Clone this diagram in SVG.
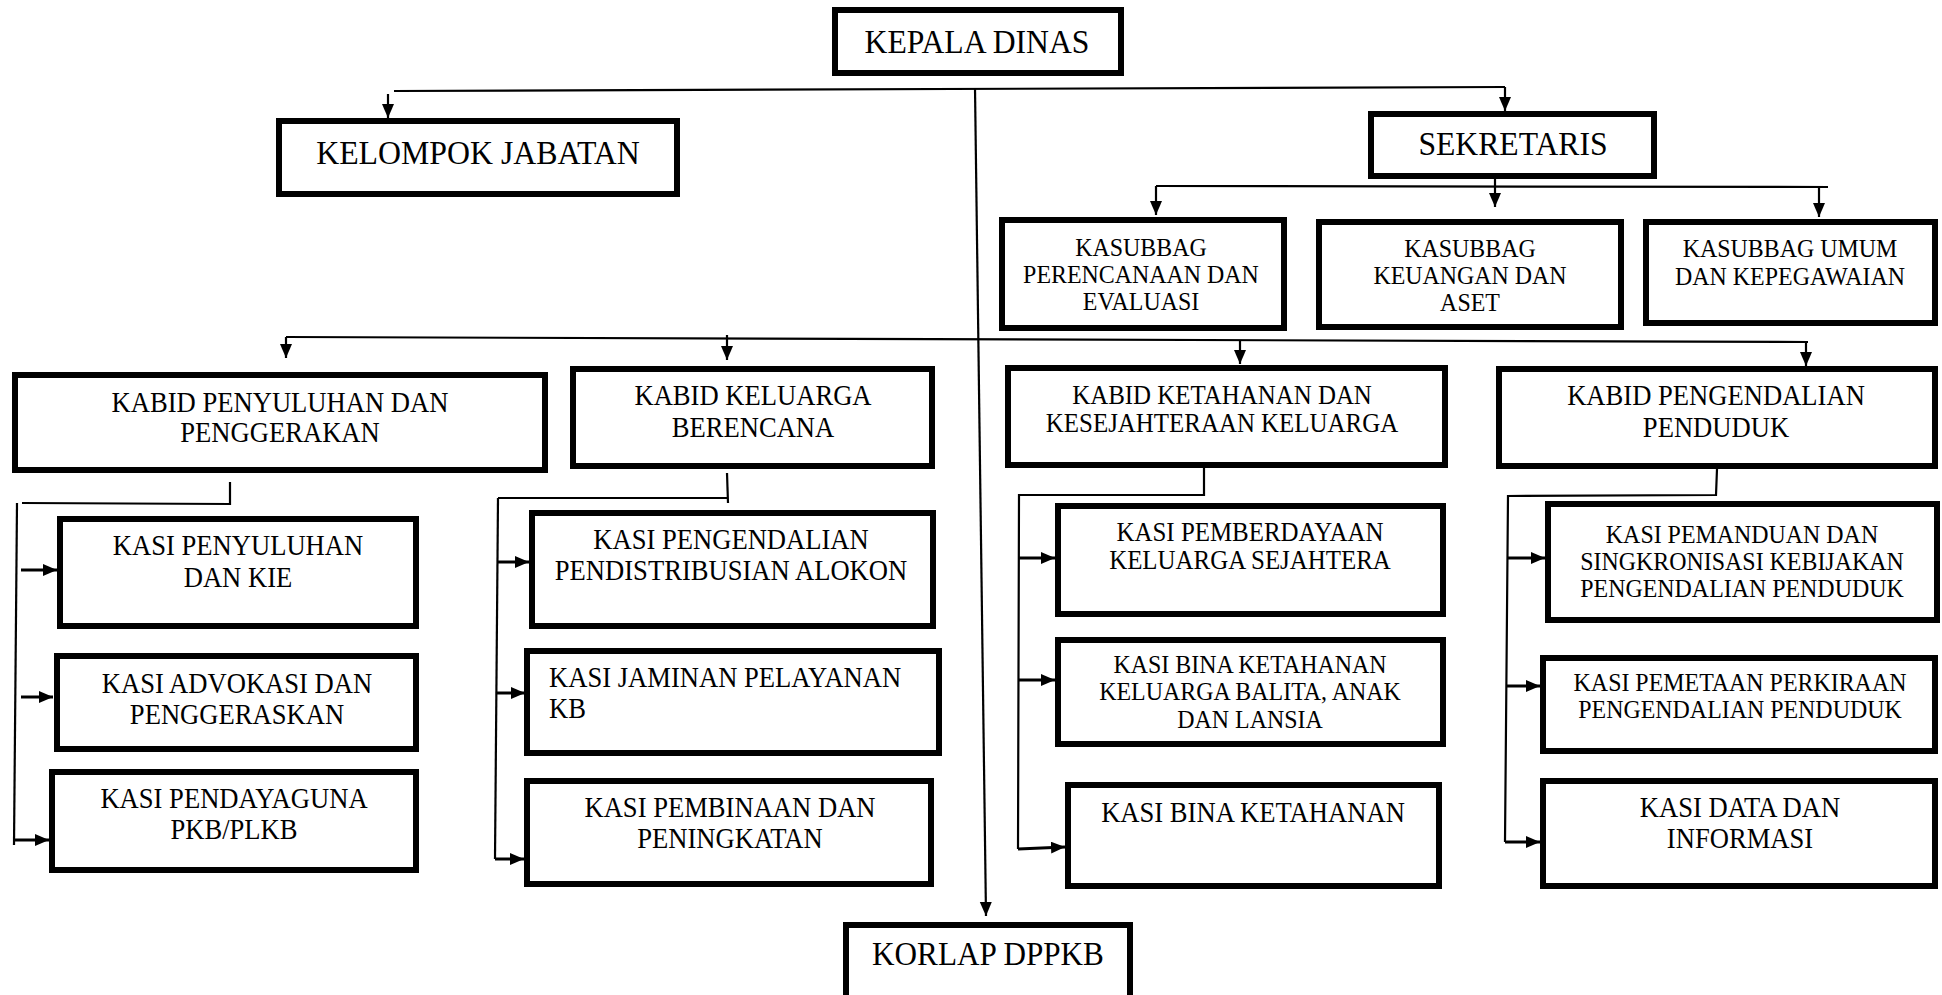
<svg xmlns="http://www.w3.org/2000/svg" width="1942" height="995" viewBox="0 0 1942 995">
<style>
.box{fill:#fff;stroke:#000;stroke-width:6}
.ln{fill:none;stroke:#000;stroke-width:2.2}
.ar{fill:none;stroke:#000;stroke-width:2.2;marker-end:url(#ah)}
.arh{fill:none;stroke:#000;stroke-width:3;marker-end:url(#ah)}
text{font-family:"Liberation Serif","Times New Roman",serif;fill:#000;text-anchor:middle}
.big{font-size:33px}
.m30{font-size:30px}
.m28{font-size:28px}
.m26{font-size:26px}
</style>
<defs>
<marker id="ah" markerUnits="userSpaceOnUse" markerWidth="16" markerHeight="14" refX="14" refY="6" orient="auto">
<path d="M0,0 L14,6 L0,12 z" fill="#000"/>
</marker>
</defs>
<rect width="1942" height="995" fill="#fff"/>
<g id="connectors">
<line class="ln" x1="394" y1="91" x2="1505" y2="87"/>
<line class="ar" x1="388" y1="94" x2="388" y2="118"/>
<line class="ar" x1="1505" y1="87" x2="1505" y2="111"/>
<line class="ar" x1="975" y1="88" x2="986" y2="916"/>
<line class="ln" x1="1156" y1="186" x2="1828" y2="187"/>
<line class="ar" x1="1495" y1="179" x2="1495" y2="207"/>
<line class="ar" x1="1156" y1="186" x2="1156" y2="215"/>
<line class="ar" x1="1819" y1="187" x2="1819" y2="217"/>
<line class="ln" x1="286" y1="337" x2="1808" y2="342"/>
<line class="ar" x1="286" y1="337" x2="286" y2="358"/>
<line class="ar" x1="727" y1="335" x2="727" y2="360"/>
<line class="ar" x1="1240" y1="341" x2="1240" y2="364"/>
<line class="ar" x1="1806" y1="342" x2="1806" y2="366"/>
<polyline class="ln" points="230,482 230,504 22,503"/>
<line class="ln" x1="17" y1="503" x2="14" y2="845"/>
<line class="arh" x1="21" y1="570" x2="57" y2="570"/>
<line class="arh" x1="21" y1="697" x2="53" y2="697"/>
<line class="arh" x1="14" y1="840" x2="49" y2="840"/>
<line class="ln" x1="727" y1="473" x2="728" y2="503"/>
<line class="ln" x1="728" y1="498" x2="498" y2="498"/>
<line class="ln" x1="498" y1="498" x2="495" y2="859"/>
<line class="arh" x1="498" y1="562" x2="529" y2="562"/>
<line class="arh" x1="497" y1="693" x2="525" y2="693"/>
<line class="arh" x1="495" y1="859" x2="524" y2="859"/>
<polyline class="ln" points="1204,468 1204,495 1019,495 1018,849"/>
<line class="arh" x1="1019" y1="558" x2="1055" y2="558"/>
<line class="arh" x1="1018" y1="680" x2="1055" y2="680"/>
<line class="arh" x1="1018" y1="849" x2="1065" y2="847"/>
<polyline class="ln" points="1717,469 1716,495 1508,496 1505,842"/>
<line class="arh" x1="1508" y1="558" x2="1545" y2="558"/>
<line class="arh" x1="1507" y1="686" x2="1540" y2="686"/>
<line class="arh" x1="1505" y1="842" x2="1540" y2="842"/>
</g>
<g id="kepala-dinas"><rect class="box" x="835" y="10" width="286" height="63"/><text class="big" transform="translate(977,53) scale(0.96,1)">KEPALA DINAS</text></g>
<g id="kelompok-jabatan"><rect class="box" x="279" y="121" width="398" height="73"/><text class="big" transform="translate(478,164) scale(0.965,1)">KELOMPOK JABATAN</text></g>
<g id="sekretaris"><rect class="box" x="1371" y="114" width="283" height="62"/><text class="big" transform="translate(1513,155) scale(0.96,1)">SEKRETARIS</text></g>
<g id="kasubbag-perencanaan"><rect class="box" x="1002" y="220" width="282" height="108"/><text class="m26" transform="translate(1141,256) scale(0.92,1)"><tspan x="0" y="0">KASUBBAG</tspan><tspan x="0" y="27">PERENCANAAN DAN</tspan><tspan x="0" y="54">EVALUASI</tspan></text></g>
<g id="kasubbag-keuangan"><rect class="box" x="1319" y="222" width="302" height="105"/><text class="m26" transform="translate(1470,257) scale(0.92,1)"><tspan x="0" y="0">KASUBBAG</tspan><tspan x="0" y="27">KEUANGAN DAN</tspan><tspan x="0" y="54">ASET</tspan></text></g>
<g id="kasubbag-umum"><rect class="box" x="1646" y="222" width="289" height="101"/><text class="m26" transform="translate(1790,257) scale(0.92,1)"><tspan x="0" y="0">KASUBBAG UMUM</tspan><tspan x="0" y="28">DAN KEPEGAWAIAN</tspan></text></g>
<g id="kabid-penyuluhan"><rect class="box" x="15" y="375" width="530" height="95"/><text class="m30" transform="translate(280,412) scale(0.887,1)"><tspan x="0" y="0">KABID PENYULUHAN DAN</tspan><tspan x="0" y="30">PENGGERAKAN</tspan></text></g>
<g id="kabid-kb"><rect class="box" x="573" y="369" width="359" height="97"/><text class="m30" transform="translate(753,405) scale(0.887,1)"><tspan x="0" y="0">KABID KELUARGA</tspan><tspan x="0" y="32">BERENCANA</tspan></text></g>
<g id="kabid-ketahanan"><rect class="box" x="1008" y="368" width="437" height="97"/><text class="m28" transform="translate(1222,404) scale(0.89,1)"><tspan x="0" y="0">KABID KETAHANAN DAN</tspan><tspan x="0" y="28">KESEJAHTERAAN KELUARGA</tspan></text></g>
<g id="kabid-pengendalian"><rect class="box" x="1499" y="369" width="436" height="97"/><text class="m30" transform="translate(1716,405) scale(0.887,1)"><tspan x="0" y="0">KABID PENGENDALIAN</tspan><tspan x="0" y="32">PENDUDUK</tspan></text></g>
<g id="kasi-penyuluhan"><rect class="box" x="60" y="519" width="356" height="107"/><text class="m30" transform="translate(238,555) scale(0.887,1)"><tspan x="0" y="0">KASI PENYULUHAN</tspan><tspan x="0" y="32">DAN KIE</tspan></text></g>
<g id="kasi-advokasi"><rect class="box" x="57" y="656" width="359" height="93"/><text class="m30" transform="translate(237,693) scale(0.887,1)"><tspan x="0" y="0">KASI ADVOKASI DAN</tspan><tspan x="0" y="31">PENGGERASKAN</tspan></text></g>
<g id="kasi-pendayaguna"><rect class="box" x="52" y="772" width="364" height="98"/><text class="m30" transform="translate(234,808) scale(0.887,1)"><tspan x="0" y="0">KASI PENDAYAGUNA</tspan><tspan x="0" y="31">PKB/PLKB</tspan></text></g>
<g id="kasi-pengendalian-alokon"><rect class="box" x="532" y="513" width="401" height="113"/><text class="m30" transform="translate(731,549) scale(0.887,1)"><tspan x="0" y="0">KASI PENGENDALIAN</tspan><tspan x="0" y="31">PENDISTRIBUSIAN ALOKON</tspan></text></g>
<g id="kasi-jaminan"><rect class="box" x="527" y="651" width="412" height="102"/><text class="m30" style="text-anchor:start" transform="translate(549,687) scale(0.887,1)"><tspan x="0" y="0">KASI JAMINAN PELAYANAN</tspan><tspan x="0" y="31">KB</tspan></text></g>
<g id="kasi-pembinaan"><rect class="box" x="527" y="781" width="404" height="103"/><text class="m30" transform="translate(730,817) scale(0.887,1)"><tspan x="0" y="0">KASI PEMBINAAN DAN</tspan><tspan x="0" y="31">PENINGKATAN</tspan></text></g>
<g id="korlap"><rect class="box" x="846" y="925" width="284" height="90"/><text class="big" transform="translate(988,965) scale(0.945,1)">KORLAP DPPKB</text></g>
<g id="kasi-pemberdayaan"><rect class="box" x="1058" y="506" width="385" height="108"/><text class="m28" transform="translate(1250,541) scale(0.89,1)"><tspan x="0" y="0">KASI PEMBERDAYAAN</tspan><tspan x="0" y="28">KELUARGA SEJAHTERA</tspan></text></g>
<g id="kasi-bina-balita"><rect class="box" x="1058" y="640" width="385" height="104"/><text class="m26" transform="translate(1250,673) scale(0.92,1)"><tspan x="0" y="0">KASI BINA KETAHANAN</tspan><tspan x="0" y="27.5">KELUARGA BALITA, ANAK</tspan><tspan x="0" y="55">DAN LANSIA</tspan></text></g>
<g id="kasi-bina-ketahanan"><rect class="box" x="1068" y="785" width="371" height="101"/><text class="m30" transform="translate(1253,822) scale(0.887,1)">KASI BINA KETAHANAN</text></g>
<g id="kasi-pemanduan"><rect class="box" x="1548" y="504" width="389" height="116"/><text class="m26" transform="translate(1742,543) scale(0.92,1)"><tspan x="0" y="0">KASI PEMANDUAN DAN</tspan><tspan x="0" y="27">SINGKRONISASI KEBIJAKAN</tspan><tspan x="0" y="54">PENGENDALIAN PENDUDUK</tspan></text></g>
<g id="kasi-pemetaan"><rect class="box" x="1543" y="658" width="392" height="93"/><text class="m26" transform="translate(1740,691) scale(0.92,1)"><tspan x="0" y="0">KASI PEMETAAN PERKIRAAN</tspan><tspan x="0" y="27">PENGENDALIAN PENDUDUK</tspan></text></g>
<g id="kasi-data"><rect class="box" x="1543" y="781" width="392" height="105"/><text class="m30" transform="translate(1740,817) scale(0.887,1)"><tspan x="0" y="0">KASI DATA DAN</tspan><tspan x="0" y="31">INFORMASI</tspan></text></g>
</svg>
